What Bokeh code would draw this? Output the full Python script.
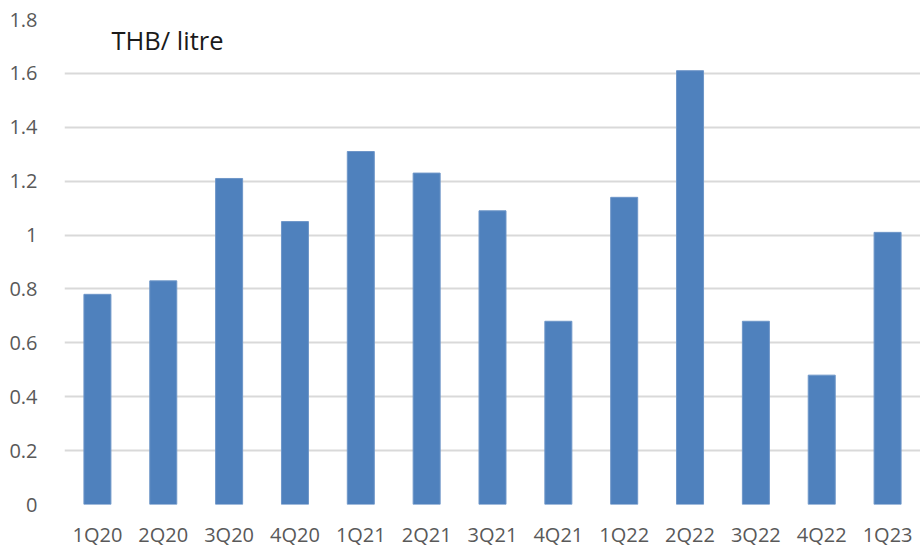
from bokeh.plotting import figure
from bokeh.models import Range1d, FactorRange, FixedTicker, Label
from bokeh.embed import file_html
from bokeh.resources import INLINE

quarters = ["1Q20", "2Q20", "3Q20", "4Q20", "1Q21", "2Q21", "3Q21", "4Q21",
            "1Q22", "2Q22", "3Q22", "4Q22", "1Q23"]
values = [0.78, 0.83, 1.21, 1.05, 1.31, 1.23, 1.09, 0.68, 1.14, 1.61, 0.68, 0.48, 1.01]
y_ticks = [0, 0.2, 0.4, 0.6, 0.8, 1, 1.2, 1.4, 1.6, 1.8]
y_tick_labels = ["0", "0.2", "0.4", "0.6", "0.8", "1", "1.2", "1.4", "1.6", "1.8"]
unit_label = "THB/ litre"

p = figure(width=920, height=552, output_backend="svg", toolbar_location=None,
           x_range=FactorRange(factors=quarters, range_padding=0),
           y_range=Range1d(0, 1.8),
           min_border_left=64, min_border_right=0, min_border_top=19, min_border_bottom=48)

p.vbar(x=quarters, top=values, width=0.41, fill_color="#4F81BD", line_color="#6E96C8", line_width=1)

p.outline_line_color = None
p.background_fill_color = "white"
p.border_fill_color = "white"

p.xgrid.grid_line_color = None
p.ygrid.grid_line_color = "#D9D9D9"
p.ygrid.grid_line_width = 2
p.ygrid.level = "underlay"

p.yaxis.ticker = FixedTicker(ticks=y_ticks)
p.yaxis.major_label_overrides = {t: l for t, l in zip(y_ticks, y_tick_labels)}

for ax in (p.xaxis[0], p.yaxis[0]):
    ax.axis_line_color = None
    ax.major_tick_line_color = None
    ax.minor_tick_line_color = None
    ax.major_label_text_font = "Open Sans"
    ax.major_label_text_font_size = "20px"
    ax.major_label_text_color = "#595959"

p.yaxis.major_label_standoff = 21
p.xaxis.major_label_standoff = 10

p.add_layout(Label(x=47, y=465, x_units="screen", y_units="screen", text=unit_label,
                   text_font="Open Sans", text_font_size="25.5px", text_color="#1A1A1A",
                   text_baseline="alphabetic", text_align="left"))

open("out.html", "w").write(file_html(p, INLINE))
